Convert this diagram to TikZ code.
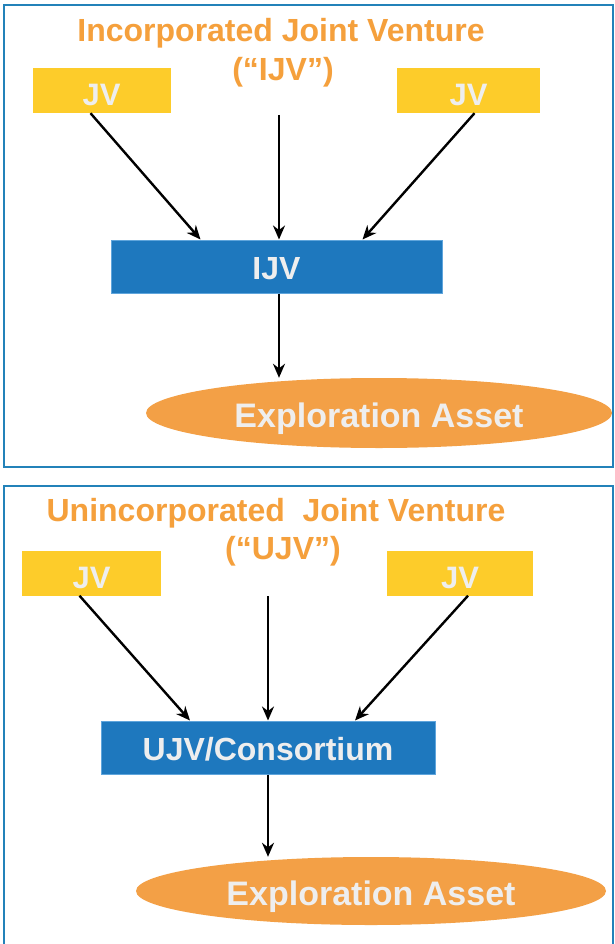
\documentclass[tikz,border=0pt]{standalone}
\usepackage{fontspec}
\setmainfont{Liberation Sans}
\usetikzlibrary{arrows.meta,shapes.geometric,calc}
\definecolor{panelblue}{RGB}{35,130,185}
\definecolor{titleorange}{RGB}{245,160,60}
\definecolor{jvyellow}{RGB}{253,204,42}
\definecolor{boxblue}{RGB}{30,120,190}
\definecolor{boxedge}{RGB}{95,165,220}
\definecolor{ellorange}{RGB}{243,160,70}
\definecolor{lighttext}{RGB}{238,238,238}
\begin{document}
\begin{tikzpicture}[x=1pt,y=-1pt,
  panel/.style={draw=panelblue,line width=1.2pt},
  titletext/.style={text=titleorange,font=\bfseries\fontsize{32}{34}\selectfont,inner sep=0pt},
  jvbox/.style={fill=jvyellow,minimum width=138pt,minimum height=45pt,inner sep=0pt,
    text=lighttext,font=\bfseries\fontsize{31}{31}\selectfont,text height=30pt,text depth=0pt},
  entbox/.style={fill=boxblue,draw=boxedge,line width=1pt,minimum height=53pt,inner sep=0pt,
    text=lighttext,font=\bfseries\fontsize{32}{32}\selectfont,text height=25pt,text depth=0pt},
  asset/.style={ellipse,fill=ellorange,minimum width=466pt,minimum height=70pt,inner sep=0pt,
    text=lighttext,font=\bfseries\fontsize{34}{34}\selectfont,text height=28pt,text depth=0pt},
  flow/.style={-{Stealth[length=14pt,width=12pt]},line width=2.4pt,black}
]
\useasboundingbox (0,0) rectangle (614,944);
\fill[white] (0,0) rectangle (614,944);

% ---------- top panel ----------
\draw[panel] (4,5) rectangle (613,467);
\node[titletext] (t1a) at (281,33) {Incorporated Joint Venture};
\node[titletext] (t1b) at (283,72) {(“IJV”)};
\node[jvbox] (jvA) at (101.5,90.5) {JV};
\node[jvbox,minimum width=143pt] (jvB) at (468.5,90.5) {JV};
\node[entbox,minimum width=331pt] (ijv) at (276.5,266.5) {IJV};
\node[asset] (assetA) at (379,413) {Exploration Asset};
\coordinate (midA) at (279,115);
\draw[flow] ([xshift=-11pt]jvA.south) -- ([xshift=-76pt]ijv.north);
\draw[flow] (midA) -- (midA |- ijv.north);
\draw[flow] ([xshift=6pt]jvB.south) -- ([xshift=86pt]ijv.north);
\draw[flow] (midA |- ijv.south) -- (midA |- assetA.north);

% ---------- bottom panel ----------
\draw[panel] (4,950) -- (4,486) -- (613,486) -- (613,950);
\node[titletext] (t2a) at (276,513) {Unincorporated\ \ Joint Venture};
\node[titletext] (t2b) at (283,551) {(“UJV”)};
\node[jvbox,minimum width=139pt] (jvC) at (91.5,573) {JV};
\node[jvbox,minimum width=146pt] (jvD) at (460,573) {JV};
\node[entbox,minimum width=334pt] (ujv) at (268,747.5) {UJV/Consortium};
\node[asset,minimum width=470pt,minimum height=68pt] (assetB) at (371,891) {Exploration Asset};
\coordinate (midB) at (268,596);
\draw[flow] ([xshift=-12pt]jvC.south) -- ([xshift=-78pt]ujv.north);
\draw[flow] (midB) -- (midB |- ujv.north);
\draw[flow] ([xshift=8pt]jvD.south) -- ([xshift=87pt]ujv.north);
\draw[flow] (midB |- ujv.south) -- (midB |- assetB.north);
\end{tikzpicture}
\end{document}
